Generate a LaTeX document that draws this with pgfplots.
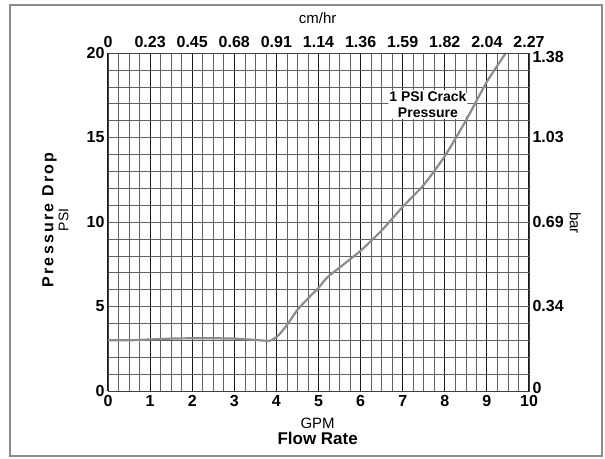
\documentclass[border=0pt]{standalone}
\usepackage{pgfplots}
\pgfplotsset{compat=1.18}
\usepackage{fontspec}
\setmainfont{Liberation Sans}
\begin{document}
\begin{tikzpicture}
\useasboundingbox (-108pt,-67pt) rectangle (497pt,391pt);
\draw[black!45, line width=1.3pt] (-98pt,-65pt) rectangle (494pt,386pt);
\begin{axis}[
  at={(0pt,0pt)}, anchor=south west,
  scale only axis, width=421pt, height=338pt,
  xmin=0, xmax=10, ymin=0, ymax=20,
  xtick={0,1,...,10}, ytick={0,5,10,15,20},
  minor x tick num=3, minor ytick={0,1,2,3,4,5,6,7,8,9,10,11,12,13,14,15,16,17,18,19,20},
  xtick pos=lower, ytick pos=left,
  major tick length=0pt, minor tick length=0pt,
  xmajorgrids=true, xminorgrids=true, ymajorgrids=false, yminorgrids=true,
  major grid style={black!90, line width=1.1pt},
  minor grid style={black!62, line width=0.6pt},
  axis line style={black!75, line width=0.9pt},
  /pgf/number format/assume math mode=true,
  ticklabel style={font=\fontsize{16}{18}\selectfont\bfseries},
  xticklabel style={yshift=-1pt},
  xlabel={GPM\\[0pt]{\fontsize{17}{19}\selectfont\bfseries Flow Rate}},
  xlabel style={at={(axis description cs:0.498,-0.12)}, anchor=center, align=center, font=\fontsize{15}{16}\selectfont},
  ylabel={{\fontsize{16}{18}\selectfont\bfseries\addfontfeatures{LetterSpace=14}Pressure Drop}\\PSI},
  ylabel style={at={(axis description cs:-0.125,0.506)}, anchor=center, align=center, font=\fontsize{14}{15}\selectfont},
]
\node[fill=white, rounded corners=6pt, inner sep=1pt, align=center,
  font=\fontsize{14}{16.5}\selectfont\bfseries] at (axis cs:7.6,16.95) {1 PSI Crack\\Pressure};
\addplot[black!45, line width=2.2pt, smooth, tension=0.4] coordinates {
(0,3.0) (0.5,3.0) (1,3.05) (1.5,3.1) (2,3.12) (2.5,3.12) (3,3.1) (3.5,3.02) (3.85,2.98)
(4.05,3.3) (4.25,3.9) (4.5,4.8) (4.8,5.6) (5.0,6.1) (5.2,6.7) (5.6,7.5) (6.0,8.3)
(6.5,9.5) (7.0,10.9) (7.5,12.2) (8.0,13.9) (8.5,16.0) (9.0,18.3) (9.45,20)
};
\end{axis}
\begin{axis}[
  at={(0pt,0pt)}, anchor=south west,
  scale only axis, width=421pt, height=338pt,
  xmin=0, xmax=10, ymin=0, ymax=20,
  axis x line*=top, axis y line*=right,
  axis line style={black!75, line width=0.9pt},
  xtick={0,1,...,10},
  xticklabels={0,0.23,0.45,0.68,0.91,1.14,1.36,1.59,1.82,2.04,2.27},
  ytick={0.2,5,10,15,19.75},
  yticklabels={0,0.34,0.69,1.03,1.38},
  major tick length=0pt,
  /pgf/number format/assume math mode=true,
  ticklabel style={font=\fontsize{16}{18}\selectfont\bfseries},
  xticklabel style={yshift=2pt},
  xlabel={cm/hr},
  every axis x label/.style={at={(axis description cs:0.498,1.104)}, anchor=center, font=\fontsize{15}{16}\selectfont},
  ylabel={bar},
  every axis y label/.style={at={(axis description cs:1.11,0.497)}, anchor=center, rotate=-90, font=\fontsize{15}{16}\selectfont},
]
\end{axis}
\end{tikzpicture}
\end{document}
